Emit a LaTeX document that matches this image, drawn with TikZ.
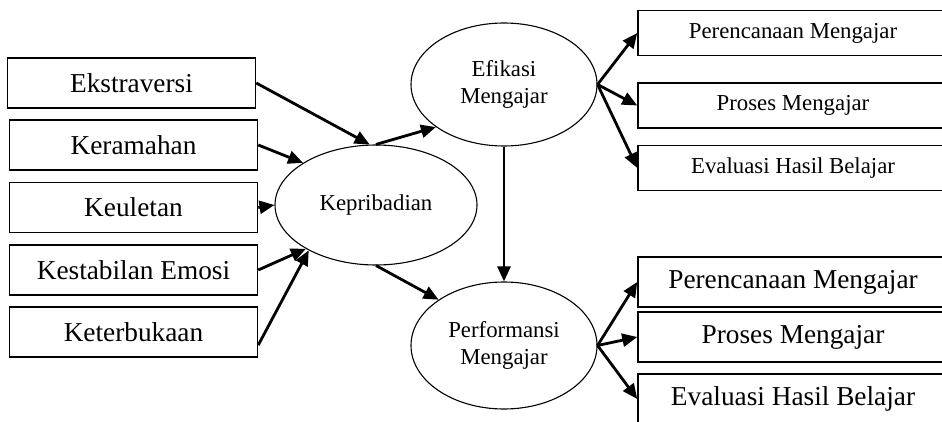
\documentclass[tikz,border=0pt]{standalone}
\usepackage{fontspec}
\setmainfont{Liberation Serif}
\usetikzlibrary{shapes, arrows.meta, positioning}

\begin{document}
\begin{tikzpicture}[x=1pt, y=-1pt,
  box/.style={draw, line width=1.5pt, minimum width=248pt, minimum height=50pt, inner sep=0pt, font=\fontsize{27.3}{32}\selectfont},
  smallbox/.style={box, minimum width=310pt, minimum height=45pt, font=\fontsize{22.8}{27}\selectfont},
  bigbox/.style={box, minimum width=310pt},
  latent/.style={draw, ellipse, line width=1.1pt, inner sep=0pt, align=center, font=\fontsize{22.8}{27}\selectfont},
  link/.style={-{Triangle[length=15pt,width=13pt]}, line width=2.8pt}]
  \useasboundingbox (0,0) rectangle (942,422);
  \clip (0,0) rectangle (942,422);

  \node[box] (ekstra) at (131.5,83) {Ekstraversi};
  \node[box] (keramah) at (133.5,145) {Keramahan};
  \node[box] (ulet) at (133.5,207.5) {Keuletan};
  \node[box] (stabil) at (133.5,270) {Kestabilan Emosi};
  \node[box] (terbuka) at (133.5,332) {Keterbukaan};

  \node[latent, minimum width=202pt, minimum height=120pt] (kepribadian) at (376,205) {Kepribadian};
  \node[latent, minimum width=186pt, minimum height=123pt] (efikasi) at (504,84.5) {Efikasi\\Mengajar};
  \node[latent, minimum width=186pt, minimum height=127pt] (performansi) at (504,345.5) {Performansi\\Mengajar};

  \node[smallbox] (ef1) at (793,33) {Perencanaan Mengajar};
  \node[smallbox] (ef2) at (793,105.5) {Proses Mengajar};
  \node[smallbox] (ef3) at (793,168) {Evaluasi Hasil Belajar};
  \node[bigbox] (pf1) at (793,282) {Perencanaan Mengajar};
  \node[bigbox] (pf2) at (793,337) {Proses Mengajar};
  \node[bigbox] (pf3) at (793,399) {Evaluasi Hasil Belajar};

  \draw[link] (ekstra.east) -- (kepribadian.96);
  \draw[link] (keramah.east) -- (kepribadian.150);
  \draw[link] (ulet.east) -- (kepribadian.west);
  \draw[link] (stabil.east) -- (kepribadian.212);
  \draw[link] (terbuka.-6) -- (kepribadian.214);
  \draw[link] (kepribadian.north) -- (efikasi.212);
  \draw[link] (kepribadian.south) -- (performansi.145);
  \draw[link] (efikasi) -- (performansi);
  \foreach \i in {1,2,3} {
    \draw[link] (efikasi.east) -- (ef\i.west);
    \draw[link] (performansi.east) -- (pf\i.west);
  }
\end{tikzpicture}
\end{document}
